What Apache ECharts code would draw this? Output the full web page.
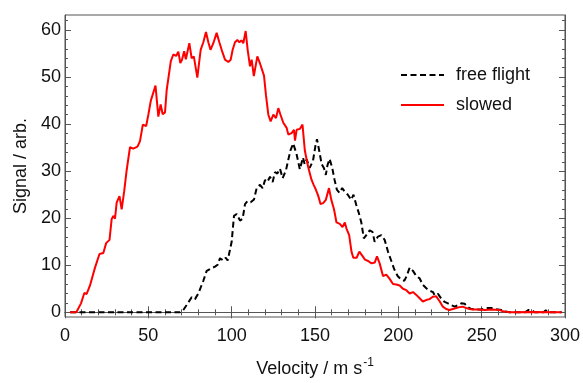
<!DOCTYPE html>
<html>
<head>
<meta charset="utf-8">
<script src="https://cdn.jsdelivr.net/npm/echarts@6/dist/echarts.min.js"></script>
<style>html,body{margin:0;padding:0;background:#fff}#c{width:583px;height:383px}</style>
</head>
<body>
<div id="c"></div>
<script>
var seriesNames = ['free flight', 'slowed'];
var xTicks = [0, 50, 100, 150, 200, 250, 300];
var yTicks = [0, 10, 20, 30, 40, 50, 60];

var freeX = [3, 69, 71, 72.9, 76, 78, 80, 83, 85, 88, 90, 91.6, 93, 95, 96.5, 97.6, 100, 101.4, 103, 105, 106.6, 108, 109.4, 111.4, 113.4, 115, 117, 118.6, 120, 121.4, 123, 124.6, 126, 127.4, 129, 130.6, 132.6, 133.9, 135.3, 136.9, 138.9, 140.9, 142.8, 143.8, 145, 146.8, 148.8, 150.4, 151.2, 152.5, 154, 155.4, 156.5, 157.5, 158.8, 160.4, 161.7, 163.1, 164.7, 166.3, 167.7, 169.7, 171.7, 173.1, 174.7, 176.3, 177.8, 179.3, 180.8, 182.8, 184.5, 185.8, 187.8, 189.8, 191.8, 193.8, 195.8, 197.6, 199.6, 201.6, 203.6, 205, 206.8, 208.8, 210.8, 212.8, 214.8, 216.8, 218.8, 220.8, 221.8, 223.8, 225.8, 227.8, 229.8, 231.8, 233.8, 235.8, 237.8, 239.8, 241.8, 243.8, 245.8, 249.8, 253.8, 255.8, 257.8, 259.8, 261.8, 263.8, 266.8, 276, 278, 280, 282, 287, 288.5, 290, 298];
var freeY = [0, 0, 0.5, 1.5, 3.2, 2.8, 4, 6.7, 8.8, 9.4, 9.7, 10.1, 11.5, 11, 11.6, 11, 15, 20.5, 20.9, 19.5, 19.9, 23, 23.6, 23.4, 24, 26.4, 27.1, 26.4, 28.1, 27.7, 28.8, 27.7, 29.8, 29.5, 30.5, 28.5, 30.2, 32.3, 34.4, 35.9, 33.7, 30.4, 32.9, 31.5, 32.5, 30.7, 32.2, 35.7, 36.8, 34.4, 31.5, 30.6, 29.2, 31.3, 32.6, 30.6, 28.2, 26.1, 25.4, 26.4, 25.7, 25, 23.9, 25, 22.9, 21.1, 19.1, 15.7, 16.4, 17.4, 17.1, 15, 16.1, 16.4, 15.4, 12.9, 10.9, 9.1, 7.7, 7, 6.7, 7.7, 9.5, 8.8, 7.7, 7.2, 5.8, 5.1, 4.6, 4.3, 3.6, 3.9, 2.9, 2.2, 1.9, 1.5, 1.2, 1.5, 1.9, 1.8, 1.1, 0.7, 0.6, 0.6, 0.9, 0.9, 0.7, 0.6, 0.5, 0.2, 0, 0, 0.5, 0.4, 0, 0, 0.4, 0, 0];

var slowX = [3, 6.8, 9.6, 11.6, 13, 15, 16, 18, 20.7, 23, 24.7, 26.7, 28, 29, 30, 31, 32.7, 34, 35.5, 37, 39, 41, 43.5, 45, 46.7, 48.7, 50, 51.5, 52.7, 54.3, 56, 57.4, 58.6, 60, 61, 62, 63.5, 65, 66.7, 68, 69.2, 70.2, 71.5, 72.5, 74.6, 76, 77.3, 79.4, 81.4, 83, 84.6, 86, 87.3, 89, 91, 92.6, 94, 96, 98, 99.4, 100.6, 102, 103.4, 104.6, 106, 107, 108.4, 109.6, 111, 112, 113.3, 115.4, 117, 119.4, 120.6, 122, 123.4, 125, 126.6, 128, 129.3, 131, 133, 134, 136, 137.4, 138, 139, 141, 142.5, 143.9, 145.9, 147.9, 149.2, 150.5, 151.9, 153.3, 154.9, 156.5, 158.4, 159.8, 161.4, 162.9, 164.9, 166.5, 167.9, 168.9, 170.5, 171.9, 173, 175, 176.6, 178, 180, 181.9, 183.9, 185.9, 187.2, 188.8, 190.8, 192.8, 194.8, 196.8, 198.8, 200.8, 202.8, 204.8, 206.8, 208.8, 210.8, 212.8, 214.7, 216.7, 218.7, 220.7, 222.7, 224.7, 226.7, 228.7, 230.7, 232.7, 234.7, 236.7, 238.7, 240.7, 242.7, 244.7, 248, 252, 256, 260.7, 262.7, 266.7, 280, 298];
var slowY = [0, 0, 1.9, 4.1, 3.9, 5.7, 6, 9.5, 12.4, 12.6, 14.7, 15.4, 19.8, 20.5, 19.9, 23.3, 24.7, 21.9, 25.7, 30.2, 35.1, 34.8, 35.2, 36.4, 39.9, 39.6, 42, 45, 44.8, 48.2, 41.6, 44.2, 42.1, 42.5, 47.2, 47.5, 53.4, 54.8, 54.5, 55.4, 53, 53.7, 55.5, 53.8, 57.2, 54, 54.4, 49.9, 55.8, 57.4, 59.6, 57.4, 55.8, 57.2, 59.4, 57.4, 55.8, 53.7, 53.2, 53.7, 55.8, 57.4, 57.9, 57.4, 57.8, 57.2, 59.8, 55.8, 52.3, 53.7, 50.2, 54.4, 52.9, 50.3, 46.1, 42, 40.6, 42, 41.3, 43.4, 42, 40.3, 39.2, 37.8, 38.1, 38.8, 36.5, 38.8, 39, 39.9, 34.4, 30.9, 28.2, 27.1, 26.1, 24.8, 23, 23.2, 23.9, 26.4, 23.9, 21.9, 19.1, 18.8, 18.1, 19.1, 17.8, 16.4, 12.9, 11.6, 11.6, 12.9, 12.2, 11.2, 10.9, 10.4, 10.6, 11.9, 10.4, 7.7, 8.0, 7.1, 6.0, 5.9, 5.7, 5.0, 4.7, 4.0, 4.3, 3.7, 3.0, 2.3, 2.6, 2.8, 3.3, 3.4, 2.4, 1.2, 0.7, 0.5, 0.7, 0.9, 1.1, 1.2, 0.9, 0.7, 0.6, 0.6, 0.5, 0.6, 0.5, 0.2, 0, 0.05, 0];

function pairs(xs, ys) { return xs.map(function (x, i) { return [x, ys[i]]; }); }

var yMin = -1.0, yMax = 63.2;
var yMinor = [];
for (var v = 2; v < 63; v += 2) { if (v % 10 !== 0) yMinor.push(v); }

var frame = { show: true, lineStyle: { color: '#555', width: 1 } };
var fontFam = 'Liberation Sans, Arial, sans-serif';
var fs = 18;

function yAx(pos, opts) {
  var base = {
    type: 'value', position: pos, min: yMin, max: yMax, gridIndex: 0,
    axisLine: { show: false }, splitLine: { show: false },
    axisLabel: { show: false }, axisTick: { show: false }
  };
  for (var k in opts) base[k] = opts[k];
  return base;
}

var option = {
  animation: false,
  backgroundColor: '#fff',
  textStyle: { fontFamily: fontFam },
  grid: { left: 65, right: 18, top: 15, bottom: 59, show: true, borderColor: '#555', borderWidth: 1 },
  legend: {
    orient: 'vertical', left: 395, top: 61, itemGap: 12,
    itemWidth: 43, itemHeight: 14,
    itemStyle: { opacity: 0, color: 'transparent', borderWidth: 0 },
    textStyle: { fontSize: fs, color: '#111', fontFamily: fontFam, padding: [0, 0, 0, 7] },
    data: seriesNames
  },
  xAxis: [
    {
      type: 'value', min: 0, max: 300, interval: 50, position: 'bottom',
      name: 'Velocity / m s{sup|-1}', nameLocation: 'middle', nameGap: 40,
      nameTextStyle: { fontSize: fs, color: '#111', rich: { sup: { fontSize: 12, verticalAlign: 'top', padding: [0, 0, 12, 1] } } },
      axisLine: frame,
      axisTick: { show: true, inside: true, length: 6, lineStyle: { color: '#555' }, customValues: xTicks },
      minorTick: { show: true, splitNumber: 5, length: 3, lineStyle: { color: '#555' } },
      axisLabel: { fontSize: fs, color: '#111', margin: 10, customValues: xTicks },
      splitLine: { show: false }
    },
    {
      type: 'value', min: 0, max: 300, interval: 50, position: 'top',
      axisLine: frame,
      axisTick: { show: true, inside: true, length: 6, lineStyle: { color: '#555' } },
      minorTick: { show: true, splitNumber: 5, length: 3, lineStyle: { color: '#555' } },
      axisLabel: { show: false }, splitLine: { show: false }
    }
  ],
  yAxis: [
    yAx('left', {
      name: 'Signal / arb.', nameLocation: 'middle', nameGap: 32,
      nameTextStyle: { fontSize: fs, color: '#111' },
      axisLine: frame,
      axisTick: { show: true, inside: true, length: 6, lineStyle: { color: '#555' }, customValues: yTicks },
      axisLabel: { show: true, fontSize: fs, color: '#111', margin: 4, customValues: yTicks }
    }),
    yAx('left', {
      axisTick: { show: true, inside: true, length: 3, lineStyle: { color: '#555' }, customValues: yMinor }
    }),
    yAx('right', {
      axisLine: frame,
      axisTick: { show: true, inside: true, length: 6, lineStyle: { color: '#555' }, customValues: yTicks }
    }),
    yAx('right', {
      axisTick: { show: true, inside: true, length: 3, lineStyle: { color: '#555' }, customValues: yMinor }
    })
  ],
  series: [
    {
      name: seriesNames[0], type: 'line', xAxisIndex: 0, yAxisIndex: 0,
      data: pairs(freeX, freeY), showSymbol: false, symbol: 'none',
      lineStyle: { color: '#000', width: 2, type: [6, 3.5] },
      itemStyle: { color: '#000' }
    },
    {
      name: seriesNames[1], type: 'line', xAxisIndex: 0, yAxisIndex: 0,
      data: pairs(slowX, slowY), showSymbol: false, symbol: 'none',
      lineStyle: { color: '#ff0000', width: 2 },
      itemStyle: { color: '#ff0000' }
    }
  ]
};
var chart = echarts.init(document.getElementById('c'), null, { renderer: 'canvas' });
chart.setOption(option);
</script>
</body>
</html>
